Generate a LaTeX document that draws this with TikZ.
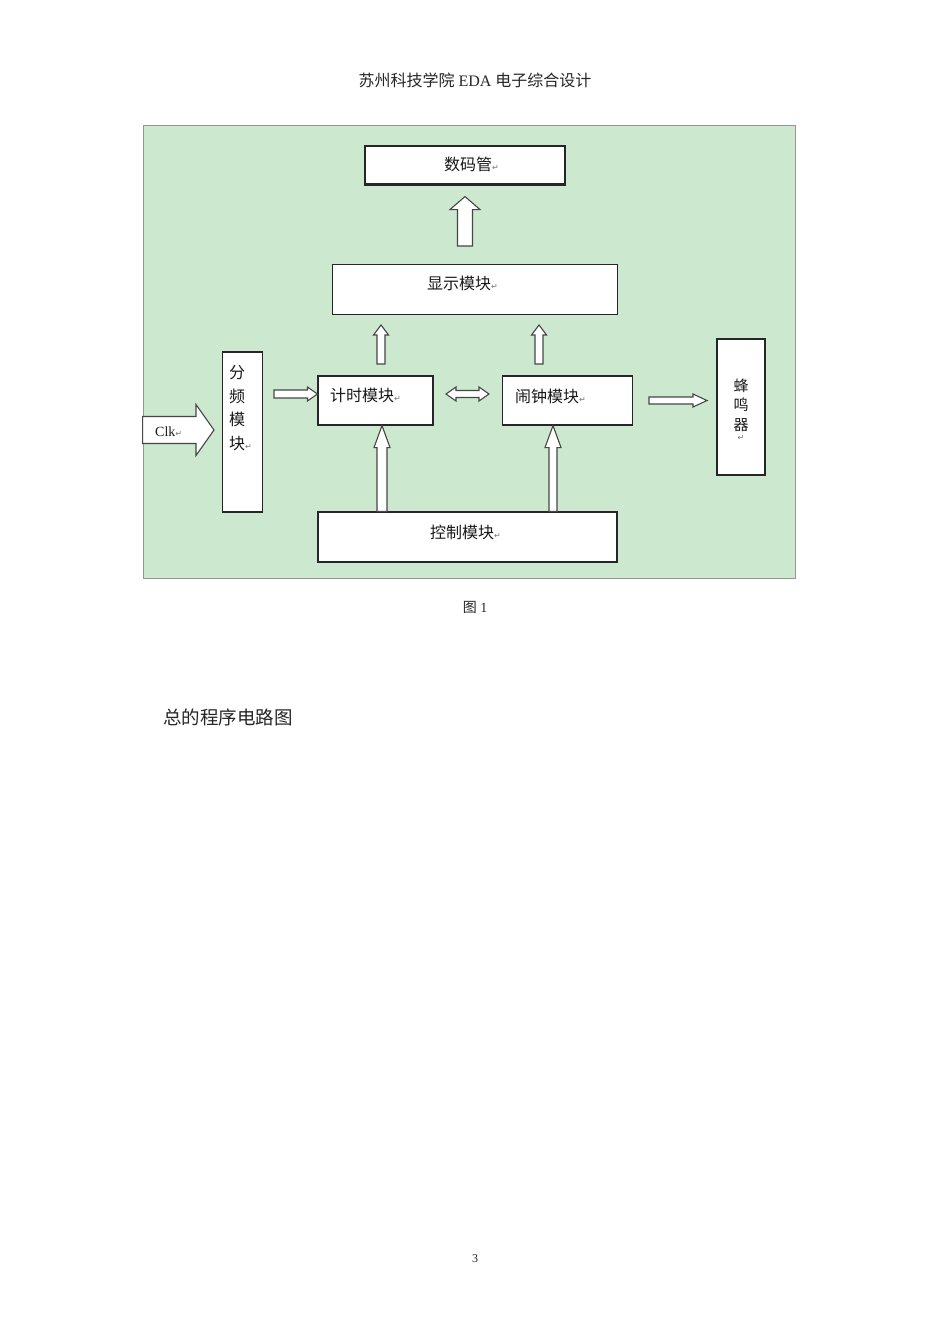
\documentclass[tikz,border=0pt]{standalone}
\usepackage{fontspec}
\setmainfont{Liberation Serif}
\newfontfamily\cjk{Noto Sans CJK SC}
\newfontfamily\symf{DejaVu Sans}
\usetikzlibrary{calc}
\definecolor{bggreen}{RGB}{204,232,207}
\definecolor{framegray}{RGB}{150,150,150}
\definecolor{arrgray}{RGB}{70,70,70}
\newcommand\pmark{{\symf\fontsize{8}{8}\selectfont\color{black!55}↵}}
% up arrow: #1 base, #2 tip, #3 body half width, #4 head half width, #5 head length
\newcommand\uparr[5]{\draw[blockarrow] let \p1=(#1), \p2=(#2) in
  (\x1-#3,\y1) -- (\x1-#3,\y2-#5) -- (\x1-#4,\y2-#5) -- (\x1,\y2) -- (\x1+#4,\y2-#5) -- (\x1+#3,\y2-#5) -- (\x1+#3,\y1) -- cycle;}
% right arrow
\newcommand\rightarr[5]{\draw[blockarrow] let \p1=(#1), \p2=(#2) in
  (\x1,\y1-#3) -- (\x2-#5,\y1-#3) -- (\x2-#5,\y1-#4) -- (\x2,\y1) -- (\x2-#5,\y1+#4) -- (\x2-#5,\y1+#3) -- (\x1,\y1+#3) -- cycle;}
% double horizontal arrow
\newcommand\dblarr[5]{\draw[blockarrow] let \p1=(#1), \p2=(#2) in
  (\x1,\y1) -- (\x1+#5,\y1+#4) -- (\x1+#5,\y1+#3) -- (\x2-#5,\y1+#3) -- (\x2-#5,\y1+#4) -- (\x2,\y1) -- (\x2-#5,\y1-#4) -- (\x2-#5,\y1-#3) -- (\x1+#5,\y1-#3) -- (\x1+#5,\y1-#4) -- cycle;}
\begin{document}
\begin{tikzpicture}[x=1pt,y=-1pt,
  box/.style={draw=black!85, line width=1.1pt, fill=white, inner sep=0pt},
  blockarrow/.style={draw=arrgray, line width=1.1pt, fill=white, line join=miter},
  lbl/.style={inner sep=0pt, font=\cjk\fontsize{16}{16}\selectfont, text=black!90},
  pagetext/.style={inner sep=0pt, text=black!85}]
\useasboundingbox[fill=white] (0,0) rectangle (950,1344);

% page texts
\node[pagetext, font=\fontsize{16}{16}\selectfont] (hdr) at (475,80) {{\cjk 苏州科技学院} EDA {\cjk 电子综合设计}};
\node[pagetext, font=\fontsize{14}{14}\selectfont] (cap) at (475,607) {{\cjk 图} 1};
\node[pagetext, anchor=west, font=\cjk\fontsize{18.5}{18.5}\selectfont] (sub) at (163,717) {总的程序电路图};
\node[pagetext, font=\fontsize{12}{12}\selectfont] (pg) at (475,1259) {3};

% frame
\node[draw=framegray, fill=bggreen, line width=0.8pt, minimum width=652pt, minimum height=453pt, inner sep=0pt] (frame) at (469,351.5) {};

% boxes
\node[box, minimum width=200pt, minimum height=38pt] (smg) at (465,165) {};
\draw[line width=2pt, black!85] (smg.south west) -- (smg.south east);
\node[box, minimum width=285pt, minimum height=50pt] (xs) at (475,289.5) {};
\node[box, minimum width=40pt, minimum height=160pt] (fp) at (242.5,432) {};
\node[box, minimum width=115pt, minimum height=49pt] (js) at (375.5,400.5) {};
\node[box, minimum width=130pt, minimum height=49pt] (nz) at (567.5,400.5) {};
\node[box, minimum width=48pt, minimum height=136pt] (fmq) at (741,407) {};
\node[box, minimum width=299pt, minimum height=50pt] (kz) at (467.5,537) {};

% arrows
\coordinate (a0t) at ([yshift=-12]smg.south);
\coordinate (a0b) at ([yshift=18]xs.north);
\uparr{a0t |- a0b}{a0t}{7.5pt}{15pt}{13pt}

\coordinate (a1t) at (381,325);
\coordinate (a1b) at (381,364);
\uparr{a1b}{a1t}{4pt}{7.5pt}{10pt}
\coordinate (a2t) at (539,325);
\coordinate (a2b) at (539,364);
\uparr{a2b}{a2t}{4pt}{7.5pt}{10pt}

\coordinate (a3t) at ([xshift=6.5]js.south);
\uparr{a3t |- kz.north}{a3t}{5pt}{8pt}{22pt}
\coordinate (a4t) at ([xshift=-14.5]nz.south);
\uparr{a4t |- kz.north}{a4t}{4pt}{8pt}{22pt}

\coordinate (clkt) at (214,430);
\rightarr{frame.west |- clkt}{clkt}{13.5pt}{25.5pt}{18pt}

\coordinate (a5t) at ([yshift=6.5]js.west);
\coordinate (a5b) at (274,394);
\rightarr{a5b}{a5t}{4pt}{7pt}{10pt}

\coordinate (a6l) at (446,394);
\coordinate (a6r) at (489,394);
\dblarr{a6l}{a6r}{3.5pt}{7pt}{10pt}

\coordinate (a7b) at (649,400.5);
\coordinate (a7t) at (707,400.5);
\rightarr{a7b}{a7t}{3.5pt}{6.5pt}{14pt}

% labels
\node[lbl, anchor=west] (lsmg) at (444,164) {数码管\pmark};
\node[lbl, anchor=west] (lxs) at (427,283) {显示模块\pmark};
\node[lbl, anchor=west] (ljs) at (330,395) {计时模块\pmark};
\node[lbl, anchor=west] (lnz) at (515,396) {闹钟模块\pmark};
\node[lbl, anchor=west] (lkz) at (430,532) {控制模块\pmark};
\node[lbl, align=center, font=\cjk\fontsize{16}{23.5}\selectfont] (lfp) at (237,408) {分\\频\\模\\块\rlap{\pmark}};
\node[lbl, align=center, font=\cjk\fontsize{15}{19.5}\selectfont] (lfmq) at (741,405) {蜂\\鸣\\器};
\node[inner sep=0pt] (lfmqm) at (741,438) {\pmark};
\node[inner sep=0pt, anchor=west, font=\fontsize{14}{14}\selectfont, text=black!90] (lclk) at (155,432) {Clk\pmark};
\end{tikzpicture}
\end{document}
